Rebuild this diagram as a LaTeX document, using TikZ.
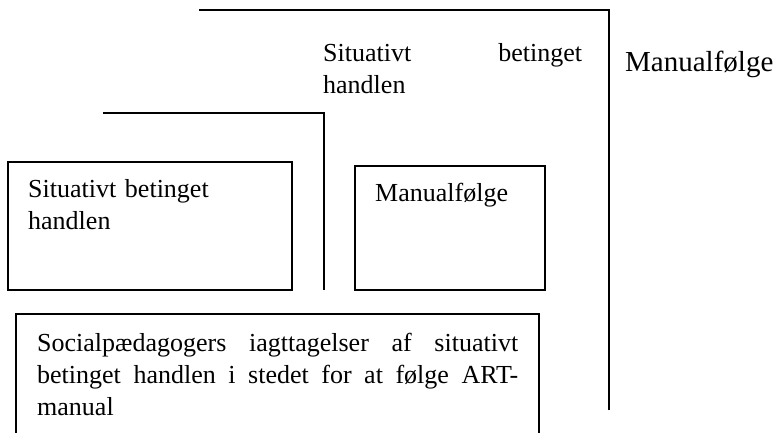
\documentclass[tikz,border=0pt]{standalone}
\usepackage{fontspec}
\setmainfont{Liberation Serif}
\tolerance=10000
\hbadness=10000
\hyphenpenalty=10000
\tikzset{
  linje/.style={line width=1.5pt},
  boks/.style={draw, line width=1.1pt},
  tekst/.style={inner sep=0pt, anchor=base west, font=\fontsize{26}{32}\selectfont},
}

\begin{document}
\begin{tikzpicture}[x=1pt, y=-1pt]
\useasboundingbox (0,0) rectangle (777,433);

% lang linje til hoejre
\coordinate (A) at (199,10);
\coordinate (B) at (609,10);
\coordinate (C) at (609,410);
\draw[linje] (A) -- (B) -- (C);

% kort linje
\coordinate (D) at (103,113);
\coordinate (E) at (324,113);
\coordinate (F) at (324,290);
\draw[linje, line width=1.2pt] (D) -- (E) -- (F);

% bokse
\draw[boks] (8,162) rectangle (292,290);
\draw[boks] (355,166) rectangle (545,290);
\draw[boks] (16,440) -- (16,314) -- (539,314) -- (539,440);

\node[tekst, text width=259pt, align=justify] (sitTop) at (323,62) {Situativt betinget\linebreak handlen};
\node[tekst, font=\fontsize{29}{32}\selectfont] (manTop) at (625,72) {Manualfølge};
\node[tekst, text width=240pt, align=left] (sitBoks) at (28,198) {Situativt betinget\\handlen};
\node[tekst] (manBoks) at (375,202) {Manualfølge};
\node[tekst, text width=481pt, align=justify] (obs) at (37,351)
  {Socialpædagogers iagttagelser af situativt\linebreak betinget handlen i stedet for at følge ART-\linebreak manual};

\end{tikzpicture}
\end{document}
